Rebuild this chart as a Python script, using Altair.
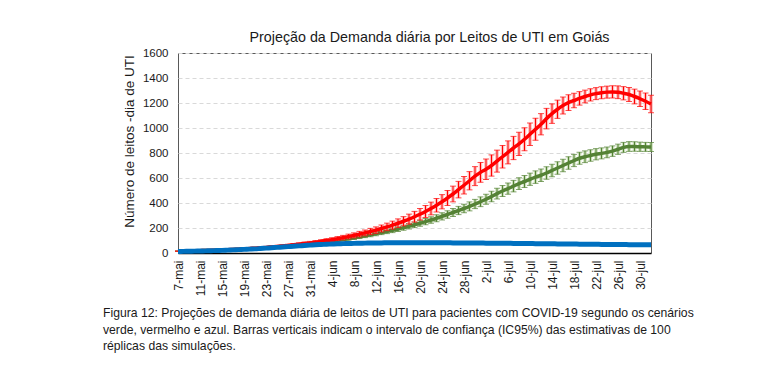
import altair as alt
import pandas as pd

# ---- data ----
tick_days = [0, 4, 8, 12, 16, 20, 24, 28, 32, 36, 40, 44, 48, 52, 56, 60, 64, 68, 72, 76, 80, 84]
tick_labels = ["7-mai", "11-mai", "15-mai", "19-mai", "23-mai", "27-mai", "31-mai",
               "4-jun", "8-jun", "12-jun", "16-jun", "20-jun", "24-jun", "28-jun",
               "2-jul", "6-jul", "10-jul", "14-jul", "18-jul", "22-jul", "26-jul", "30-jul"]
y_ticks = [0, 200, 400, 600, 800, 1000, 1200, 1400, 1600]
days = list(range(87))  # 7-mai .. 1-ago

red = [15, 16, 17, 18, 19, 20, 22, 23, 25, 27, 29, 31, 33, 36, 39, 42, 45, 49, 53, 57,
       61, 66, 71, 76, 81, 87, 93, 100, 107, 115, 123, 132, 141, 151, 161, 172, 183, 196, 209, 223,
       238, 254, 271, 290, 310, 332, 356, 382, 410, 440, 472, 507, 542, 578, 615, 645, 670, 700, 735, 770,
       805, 840, 873, 910, 950, 990, 1030, 1075, 1115, 1150, 1180, 1203, 1220, 1237, 1252, 1265, 1275, 1282, 1287, 1289,
       1286, 1278, 1268, 1252, 1234, 1214, 1192]
red_err = [2, 2, 2, 3, 3, 3, 3, 4, 4, 4, 4, 5, 5, 5, 6, 6, 7, 7, 8, 8,
           9, 10, 10, 11, 12, 12, 13, 14, 15, 16, 18, 19, 20, 22, 23, 25, 26, 28, 30, 32,
           35, 37, 40, 43, 46, 48, 51, 54, 57, 60, 63, 66, 70, 73, 76, 79, 82, 85, 88, 90,
           92, 93, 93, 92, 90, 88, 85, 82, 78, 73, 68, 63, 58, 54, 51, 49, 48, 48, 48, 49,
           51, 53, 56, 59, 62, 66, 70]
green = [15, 16, 17, 18, 19, 20, 21, 23, 24, 26, 28, 30, 32, 35, 37, 40, 43, 46, 50, 53,
         57, 61, 65, 70, 75, 80, 85, 90, 96, 102, 108, 115, 122, 130, 138, 146, 155, 164, 173, 182,
         192, 203, 214, 226, 238, 251, 264, 278, 293, 308, 324, 340, 356, 373, 392, 410, 430, 452, 475, 496,
         515, 535, 555, 572, 590, 607, 622, 640, 660, 680, 700, 720, 740, 758, 770, 780, 790, 797, 805, 815,
         830, 845, 852, 852, 850, 849, 848]
green_err = [2, 2, 2, 2, 2, 2, 3, 3, 3, 3, 4, 4, 4, 4, 5, 5, 5, 6, 6, 6,
             7, 7, 8, 8, 9, 9, 10, 10, 11, 12, 12, 13, 14, 14, 15, 16, 17, 17, 18, 19,
             20, 21, 22, 23, 24, 25, 26, 28, 29, 30, 32, 33, 34, 36, 37, 39, 40, 42, 43, 44,
             45, 46, 47, 48, 49, 50, 50, 50, 50, 50, 50, 50, 49, 48, 47, 46, 45, 44, 43, 42,
             41, 40, 39, 38, 37, 36, 36]
blue = [12, 13, 14, 15, 16, 17, 18, 20, 21, 23, 25, 27, 29, 31, 33, 36, 39, 42, 45, 48,
        51, 54, 57, 60, 63, 66, 68, 70, 72, 74, 75, 76, 77, 78, 79, 80, 81, 81, 82, 82,
        82, 83, 83, 83, 83, 83, 82, 82, 82, 82, 81, 81, 81, 80, 80, 80, 79, 79, 79, 78,
        78, 77, 77, 76, 76, 75, 75, 74, 74, 73, 73, 72, 72, 71, 71, 70, 70, 69, 69, 68,
        68, 68, 67, 67, 67, 66, 66]

series_names = ["verde", "vermelho", "azul"]
series_colors = ["#548235", "#ff0000", "#0070c0"]
halo_colors = ["#b5d39d", "#ffa3a3", "#9dc3e6"]
line_widths = [3.5, 3.5, 5]

title_text = "Projeção da Demanda diária por Leitos de UTI em Goiás"
y_title = "Número de leitos -dia de UTI"
caption_lines = [
    "Figura 12: Projeções de demanda diária de leitos de UTI para pacientes com COVID-19 segundo os cenários",
    "verde, vermelho e azul. Barras verticais indicam o intervalo de confiança (IC95%) das estimativas de 100",
    "réplicas das simulações.",
]

FONT = "Liberation Sans"
values = [green, red, blue]
errs = [green_err, red_err, None]

label_expr = "{" + ",".join(f"'{d}':'{l}'" for d, l in zip(tick_days, tick_labels)) + "}[datum.value]"

x_axis = alt.Axis(values=tick_days, labelExpr=label_expr, labelAngle=-90, labelOverlap=False,
                  grid=False, ticks=False, labelPadding=7, title=None,
                  labelFont=FONT, labelFontSize=12, labelColor="#1a1a1a",
                  domainColor="#000000", domainWidth=1.5)
y_axis = alt.Axis(values=y_ticks, format="d", labelOverlap=False, grid=True, gridDash=[4, 3],
                  gridColor="#d9d9d9", ticks=False, labelPadding=10, domain=False,
                  title=y_title, titleFont=FONT, titleFontSize=13.5,
                  titleFontWeight="normal", titleColor="#1a1a1a", titlePadding=6,
                  titleY=88,
                  labelFont=FONT, labelFontSize=11.5, labelColor="#1a1a1a")
x_enc = alt.X("day:Q", scale=alt.Scale(domain=[0, 86], nice=False, zero=False), axis=x_axis)
y_scale = alt.Scale(domain=[0, 1600], nice=False)


def y_enc(field):
    return alt.Y(field, scale=y_scale, axis=y_axis, title=y_title)


layers = []
for i, name in enumerate(series_names):
    df = pd.DataFrame({"day": days, "value": values[i]})
    if errs[i] is not None:
        df["lo"] = [v - e for v, e in zip(values[i], errs[i])]
        df["hi"] = [v + e for v, e in zip(values[i], errs[i])]
        base = alt.Chart(df)
        halo = base.mark_rule(color=halo_colors[i], strokeWidth=3.5, opacity=0.75).encode(
            x=x_enc, y=y_enc("lo:Q"), y2="hi:Q")
        rule = base.mark_rule(color=series_colors[i], strokeWidth=1).encode(
            x=x_enc, y=y_enc("lo:Q"), y2="hi:Q")
        cap_lo = base.mark_tick(color=series_colors[i], orient="horizontal", size=6, thickness=1).encode(
            x=x_enc, y=y_enc("lo:Q"))
        cap_hi = base.mark_tick(color=series_colors[i], orient="horizontal", size=6, thickness=1).encode(
            x=x_enc, y=y_enc("hi:Q"))
        line = base.mark_line(color=series_colors[i], strokeWidth=line_widths[i],
                              interpolate="monotone").encode(x=x_enc, y=y_enc("value:Q"))
        layers += [halo, rule, cap_lo, cap_hi, line]
    else:
        line = alt.Chart(df).mark_line(color=series_colors[i], strokeWidth=line_widths[i],
                                       interpolate="monotone").encode(x=x_enc, y=y_enc("value:Q"))
        layers += [line]

for i, line_text in enumerate(caption_lines):
    cap = alt.Chart(pd.DataFrame({"t": [line_text]})).mark_text(
        align="left", baseline="middle", font=FONT, fontSize=12.2, color="#1a1a1a"
    ).encode(text="t:N", x=alt.value(-75), y=alt.value(260 + 16.5 * i))
    layers.append(cap)

chart = alt.layer(*layers).properties(
    width=473, height=200,
    title=alt.TitleParams(title_text, font=FONT, fontSize=14.3, fontWeight="normal",
                          color="#1a1a1a", anchor="middle", dx=15, offset=2),
    autosize=alt.AutoSizeParams(type="none"),
    padding={"left": 170, "top": 45, "right": 124, "bottom": 111},
).configure_view(stroke="#595959", strokeWidth=1)

chart.save("out.html", embed_options={"renderer": "svg", "actions": False})
